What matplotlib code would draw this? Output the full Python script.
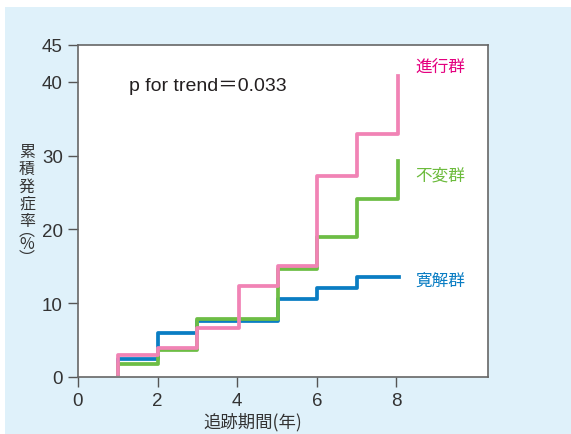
import matplotlib
matplotlib.use("Agg")
import matplotlib.pyplot as plt
from matplotlib import patches

# 累積発症率（%）by follow-up year, step curves
years_prog = [1, 1, 2, 3, 4.05, 5.03, 6, 7, 8.05]
rate_prog = [0.4, 3.0, 3.9, 6.6, 12.4, 15.1, 27.2, 33.0, 40.8]

years_stable = [1, 1, 2, 3, 5.03, 6, 7, 8.05]
rate_stable = [0.4, 1.7, 3.6, 7.9, 14.7, 19.0, 24.1, 29.3]

years_remit = [1, 1, 2, 3, 5.03, 6, 7, 8.07]
rate_remit = [0.4, 2.5, 5.9, 7.6, 10.6, 12.1, 13.6, 13.6]

group_names = ["進行群", "不変群", "寛解群"]
x_ticks = [0, 2, 4, 6, 8]
y_ticks = [0, 10, 20, 30, 40, 45]

W, H = 571, 435
fig = plt.figure(figsize=(W / 100, H / 100), dpi=100, facecolor="white")
fig.patches.append(patches.Rectangle((5 / W, 0), 1, 1 - 8 / H, transform=fig.transFigure,
                                     facecolor="#dff1fa", edgecolor="none", zorder=-10))

ax = fig.add_axes([78 / W, 1 - 378 / H, 410 / W, 332 / H])
ax.set_zorder(1)
ax.set_facecolor("white")

c_prog, c_stable, c_remit = "#f183b5", "#6dbd45", "#0a7dc3"
lw = 2.7
ax.step(years_remit, rate_remit, where="post", color=c_remit, lw=lw, zorder=2)
ax.step(years_stable, rate_stable, where="post", color=c_stable, lw=lw, zorder=3)
ax.step(years_prog, rate_prog, where="post", color=c_prog, lw=lw, zorder=4)

cjk = ["Noto Sans CJK JP", "DejaVu Sans"]
ax.text(8.47, rate_prog[-1] + 1.3, group_names[0], color="#e4007f", fontsize=12,
        family=cjk, va="center", ha="left")
ax.text(8.47, rate_stable[-1] - 1.9, group_names[1], color="#6cbb3c", fontsize=12,
        family=cjk, va="center", ha="left")
ax.text(8.47, rate_remit[-1] - 0.5, group_names[2], color=c_remit, fontsize=12,
        family=cjk, va="center", ha="left")

ax.text(1.28, 39.5, "p for trend＝0.033", fontsize=14,
        family=["Liberation Sans", "Noto Sans CJK JP"],
        color="#231f20", va="center", ha="left")

ax.set_xlim(0, 10.3)
ax.set_ylim(0, 45)
ax.set_xticks(x_ticks)
ax.set_yticks(y_ticks)
ax.tick_params(direction="out", length=7, width=1, color="#555555",
               labelsize=13.5, labelcolor="#333333")
ax.tick_params(axis="y", pad=4)
ax.tick_params(axis="x", pad=4)
for lbl in ax.get_xticklabels() + ax.get_yticklabels():
    lbl.set_family("Liberation Sans")
for sp in ax.spines.values():
    sp.set_color("#666666")
    sp.set_linewidth(1.2)

fig.text(253 / W, 1 - 422 / H, "追跡期間(年)", family=cjk, fontsize=12.5,
         color="#333333", ha="center", va="center")

# vertical y-axis label, one character per line; vertical-form brackets
ylab = ["累", "積", "発", "症", "率", "︵", "%", "︶"]
pitch = [0, 17.5, 35, 52.5, 70, 79, 93, 107]
y0 = 152
for ch, dy in zip(ylab, pitch):
    fig.text(27 / W, 1 - (y0 + dy) / H, ch, family=cjk, fontsize=11.5,
             color="#333333", ha="center", va="center")

fig.savefig("out.png", dpi=100, facecolor=fig.get_facecolor())
